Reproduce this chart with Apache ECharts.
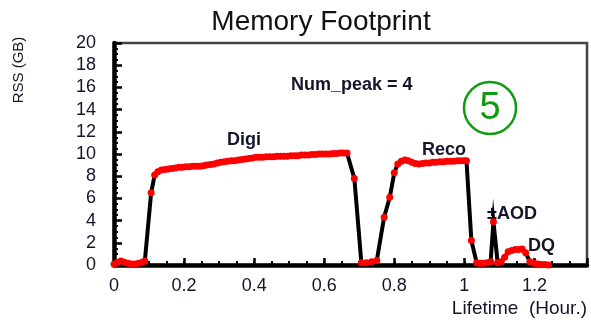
<!DOCTYPE html>
<html><head><meta charset="utf-8">
<script src="https://cdn.jsdelivr.net/npm/echarts@6/dist/echarts.min.js"></script>
<style>html,body{margin:0;padding:0;background:#fff}#c{width:591px;height:320px}</style>
</head><body><div id="c"></div>
<script>
// Lifetime (hours) and RSS (GB)
const lifetime = [
  0, 0.01, 0.02, 0.03, 0.04, 0.05, 0.06, 0.07, 0.08, 0.088,
  0.106,
  0.116, 0.125, 0.135, 0.145, 0.155, 0.165, 0.175, 0.185, 0.195, 0.205,
  0.215, 0.225, 0.235, 0.245, 0.255, 0.265, 0.275, 0.285, 0.295, 0.305,
  0.315, 0.325, 0.335, 0.345, 0.355, 0.365, 0.375, 0.385, 0.395, 0.405,
  0.415, 0.425, 0.435, 0.445, 0.455, 0.465, 0.475, 0.485, 0.495, 0.505,
  0.515, 0.525, 0.535, 0.545, 0.555, 0.565, 0.575, 0.585, 0.595, 0.605,
  0.615, 0.625, 0.635, 0.645, 0.655, 0.665,
  0.686, 0.706, 0.72, 0.735, 0.75,
  0.771, 0.787, 0.8, 0.81, 0.82, 0.83, 0.84, 0.85, 0.86, 0.87, 0.88,
  0.89, 0.9, 0.91, 0.92, 0.93, 0.94, 0.95, 0.96, 0.97, 0.98, 0.99, 1.0, 1.006,
  1.02, 1.035, 1.045, 1.055, 1.065, 1.075,
  1.083, 1.095, 1.105, 1.115, 1.125, 1.135, 1.145, 1.155, 1.165, 1.175,
  1.187, 1.2, 1.21, 1.22, 1.23, 1.24
];
const rss = [
  0.1, 0.25, 0.35, 0.25, 0.15, 0.1, 0.1, 0.15, 0.25, 0.35,
  6.5,
  8.1, 8.4, 8.55, 8.6, 8.65, 8.7, 8.75, 8.8, 8.8, 8.85,
  8.85, 8.9, 8.9, 8.9, 8.95, 9.0, 9.05, 9.1, 9.2, 9.25,
  9.3, 9.35, 9.4, 9.4, 9.45, 9.5, 9.55, 9.6, 9.65, 9.7,
  9.7, 9.7, 9.75, 9.75, 9.75, 9.8, 9.8, 9.8, 9.8, 9.85,
  9.85, 9.85, 9.9, 9.9, 9.9, 9.95, 9.95, 10.0, 10.0, 10.0,
  10.0, 10.05, 10.05, 10.1, 10.1, 10.1,
  7.8, 0.2, 0.2, 0.3, 0.4,
  4.3, 6.1, 8.3, 9.1, 9.35, 9.45, 9.4, 9.25, 9.15, 9.1, 9.15,
  9.2, 9.2, 9.25, 9.25, 9.3, 9.3, 9.35, 9.35, 9.35, 9.4, 9.4, 9.4, 9.4,
  2.2, 0.2, 0.15, 0.15, 0.2, 0.3,
  3.9, 0.2, 0.3, 0.7, 1.2, 1.3, 1.4, 1.4, 1.45, 1.1,
  0.3, 0.15, 0.1, 0.05, 0.05, 0.0
];
const xTickLabels = ['0', '0.2', '0.4', '0.6', '0.8', '1', '1.2'];
const yTickLabels = ['0','2','4','6','8','10','12','14','16','18','20'];
const annotations = [
  { text: 'Num_peak = 4', x: 291, y: 85 },
  { text: 'Digi', x: 227, y: 140 },
  { text: 'Reco', x: 422, y: 150 },
  { text: '\u00b1AOD', x: 487, y: 214 },
  { text: 'DQ', x: 528, y: 246 }
];

const FONT = '"Liberation Sans", Arial, Helvetica, sans-serif';
const TXT = '#14142a';
const points = lifetime.map((t, i) => [t, rss[i]]);

const chart = echarts.init(document.getElementById('c'), null, { renderer: 'canvas' });
const graphic = [
  { type: 'text', x: 321, y: 22, style: { text: 'Memory Footprint', font: '28px ' + FONT, fill: '#111',
      align: 'center', verticalAlign: 'middle', textAlign: 'center', textVerticalAlign: 'middle' } },
  { type: 'text', x: 19, y: 70, rotation: Math.PI / 2, style: { text: 'RSS (GB)', font: '15px ' + FONT, fill: TXT,
      align: 'center', verticalAlign: 'middle', textAlign: 'center', textVerticalAlign: 'middle' } },
  { type: 'text', x: 587, y: 309, style: { text: 'Lifetime  (Hour.)', font: '19px ' + FONT, fill: TXT,
      align: 'right', verticalAlign: 'middle', textAlign: 'right', textVerticalAlign: 'middle' } },
  { type: 'circle', shape: { cx: 490, cy: 108, r: 26 }, style: { fill: 'none', stroke: '#109a10', lineWidth: 2.5 } },
  { type: 'text', x: 490, y: 109, style: { text: '5', font: '38px ' + FONT, fill: '#109a10',
      align: 'center', verticalAlign: 'middle', textAlign: 'center', textVerticalAlign: 'middle' } }
].concat(annotations.map(a => ({
  type: 'text', x: a.x, y: a.y,
  style: { text: a.text, font: 'bold 18px ' + FONT, fill: TXT, align: 'left', verticalAlign: 'middle',
    textAlign: 'left', textVerticalAlign: 'middle' }
})));

chart.setOption({
  animation: false,
  backgroundColor: '#fff',
  grid: { left: 114, right: 4, top: 43, bottom: 55, show: true, borderColor: '#444', borderWidth: 2.5 },
  xAxis: [
    { type: 'value', min: 0, max: 1.35, interval: 0.2,
      axisLine: { show: true, lineStyle: { color: '#000', width: 4.5 } },
      axisTick: { show: true, inside: true, length: 7, lineStyle: { color: '#000', width: 2.5 } },
      splitLine: { show: false },
      axisLabel: { margin: 12, color: TXT, fontSize: 18, fontFamily: FONT,
        formatter: v => { const k = Math.round(v / 0.2); return Math.abs(v - k * 0.2) < 1e-6 && xTickLabels[k] !== undefined ? xTickLabels[k] : ''; } } },
    { type: 'value', min: 0, max: 1.35, interval: 0.05, position: 'bottom',
      axisLine: { show: false }, splitLine: { show: false }, axisLabel: { show: false },
      axisTick: { show: true, inside: true, length: 4, lineStyle: { color: '#000', width: 2 } } }
  ],
  yAxis: {
    type: 'value', min: 0, max: 20, interval: 2,
    axisLine: { show: true, lineStyle: { color: '#000', width: 4.5 } },
    axisTick: { show: true, inside: true, length: 8, lineStyle: { color: '#000', width: 2.5 } },
    minorTick: { show: true, splitNumber: 4, length: 4, lineStyle: { color: '#000', width: 2 } },
    splitLine: { show: false },
    axisLabel: { margin: 18, color: TXT, fontSize: 18, fontFamily: FONT,
      formatter: v => { const k = Math.round(v / 2); return yTickLabels[k] !== undefined && Math.abs(v - 2 * k) < 1e-6 ? yTickLabels[k] : ''; } }
  },
  series: [{
    type: 'line', xAxisIndex: 0, data: points,
    symbol: 'circle', symbolSize: 7, showSymbol: true,
    itemStyle: { color: '#ff0000', borderWidth: 0 },
    lineStyle: { color: '#000', width: 4, join: 'miter', miterLimit: 30 },
    z: 3
  }],
  graphic: graphic
});
</script>
</body></html>
